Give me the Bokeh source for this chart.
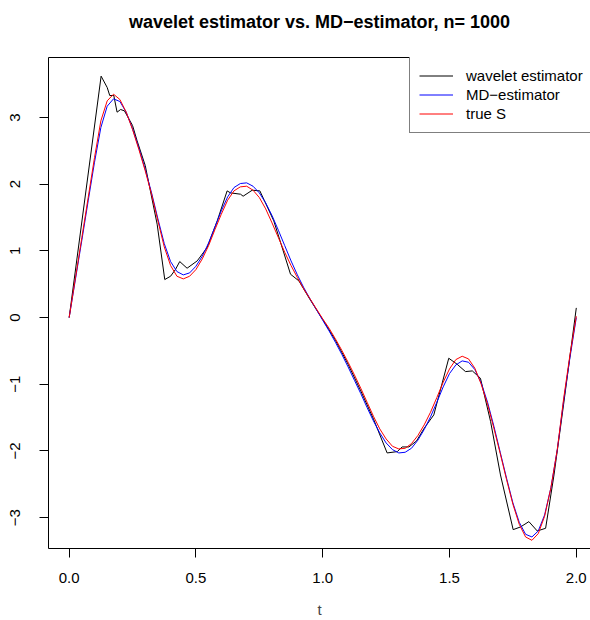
from bokeh.plotting import figure
from bokeh.models import Range1d, LinearAxis, FixedTicker, Legend, LegendItem, Grid, Title
from bokeh.embed import file_html
from bokeh.resources import INLINE

# ---- data ----
t_grid = [0.0, 0.025, 0.05, 0.075, 0.1, 0.125, 0.15, 0.175, 0.2, 0.225, 0.25, 0.275,
          0.3, 0.325, 0.35, 0.375, 0.4, 0.425, 0.45, 0.475, 0.5, 0.525, 0.55, 0.575,
          0.6, 0.625, 0.65, 0.675, 0.7, 0.725, 0.75, 0.775, 0.8, 0.825, 0.85, 0.875,
          0.9, 0.925, 0.95, 0.975, 1.0, 1.025, 1.05, 1.075, 1.1, 1.125, 1.15, 1.175,
          1.2, 1.225, 1.25, 1.275, 1.3, 1.325, 1.35, 1.375, 1.4, 1.425, 1.45, 1.475,
          1.5, 1.525, 1.55, 1.575, 1.6, 1.625, 1.65, 1.675, 1.7, 1.725, 1.75, 1.775,
          1.8, 1.825, 1.85, 1.875, 1.9, 1.925, 1.95, 1.975, 2.0]

true_S = [0.0, 0.6, 1.2, 1.8, 2.4, 2.95, 3.25, 3.35, 3.27, 3.08, 2.82, 2.52,
          2.2, 1.85, 1.45, 1.06, 0.78, 0.62, 0.58, 0.62, 0.72, 0.88, 1.08, 1.32,
          1.55, 1.76, 1.9, 1.96, 1.97, 1.91, 1.8, 1.63, 1.42, 1.2, 0.98, 0.78,
          0.6, 0.43, 0.28, 0.13, -0.02, -0.16, -0.32, -0.49, -0.67, -0.86, -1.06, -1.27,
          -1.48, -1.67, -1.82, -1.93, -1.97, -1.96, -1.89, -1.77, -1.61, -1.42, -1.2, -0.97,
          -0.77, -0.63, -0.58, -0.62, -0.76, -1.0, -1.3, -1.66, -2.04, -2.43, -2.8, -3.1,
          -3.29, -3.34, -3.24, -2.98, -2.55, -1.98, -1.22, -0.56, 0.02]

md_est = [0.0, 0.58, 1.16, 1.75, 2.33, 2.85, 3.17, 3.28, 3.24, 3.08, 2.83, 2.54,
          2.22, 1.87, 1.48, 1.11, 0.84, 0.69, 0.64, 0.67, 0.77, 0.92, 1.12, 1.36,
          1.6, 1.81, 1.95, 2.01, 2.02, 1.97, 1.87, 1.72, 1.53, 1.31, 1.08, 0.85,
          0.64, 0.45, 0.28, 0.12, -0.04, -0.2, -0.37, -0.55, -0.74, -0.94, -1.14, -1.35,
          -1.55, -1.73, -1.88, -1.98, -2.03, -2.02, -1.96, -1.84, -1.68, -1.49, -1.27, -1.04,
          -0.84, -0.71, -0.65, -0.67, -0.78, -0.98, -1.27, -1.63, -2.02, -2.41, -2.78, -3.07,
          -3.25, -3.29, -3.2, -2.96, -2.55, -1.98, -1.25, -0.6, 0.0]

t_wavelet = [0.0, 0.126, 0.15, 0.16, 0.176, 0.189, 0.203, 0.218, 0.25, 0.268, 0.3,
             0.347, 0.377, 0.40, 0.419, 0.436, 0.465, 0.505, 0.544, 0.584, 0.623,
             0.636, 0.676, 0.686, 0.722, 0.752, 0.807, 0.873, 0.906, 0.95, 1.0,
             1.05, 1.1, 1.15, 1.2, 1.254, 1.294, 1.313, 1.34, 1.37, 1.4, 1.438,
             1.497, 1.53, 1.563, 1.59, 1.622, 1.662, 1.701, 1.751, 1.78, 1.813,
             1.846, 1.879, 1.912, 1.95, 2.0]

wavelet_est = [0.0, 3.62, 3.45, 3.33, 3.33, 3.08, 3.12, 3.10, 2.88, 2.65, 2.28,
               1.40, 0.57, 0.62, 0.72, 0.84, 0.74, 0.85, 1.05, 1.45, 1.90,
               1.87, 1.85, 1.82, 1.91, 1.90, 1.45, 0.65, 0.55, 0.27, -0.03,
               -0.34, -0.70, -1.10, -1.52, -2.03, -2.01, -1.94, -1.94, -1.85, -1.66, -1.46,
               -0.61, -0.70, -0.81, -0.80, -0.91, -1.56, -2.36, -3.18, -3.14, -3.06,
               -3.20, -3.16, -2.36, -1.30, 0.145]

x_ticks = [0.0, 0.5, 1.0, 1.5, 2.0]
x_tick_labels = ["0.0", "0.5", "1.0", "1.5", "2.0"]
y_ticks = [-3, -2, -1, 0, 1, 2, 3]
y_tick_labels = ["\u22123", "\u22122", "\u22121", "0", "1", "2", "3"]

series_labels = ["wavelet estimator", "MD\u2212estimator", "true S"]
title_text = "wavelet estimator vs. MD\u2212estimator, n= 1000"
x_label = "t"

FONT = "Liberation Sans"

p = figure(width=590, height=620, output_backend="svg", toolbar_location=None,
           x_range=Range1d(-0.0815, 2.056), y_range=Range1d(-3.463, 3.90),
           x_axis_location=None, y_axis_location=None,
           min_border_left=48, min_border_right=0, min_border_top=57, min_border_bottom=72)
p.outline_line_color = None
p.background_fill_color = "white"
p.border_fill_color = "white"
p.title.text = ""
for g in list(p.center):
    if isinstance(g, Grid):
        g.visible = False

# bottom axis (also bottom border of the box)
xa = LinearAxis(ticker=FixedTicker(ticks=x_ticks),
                major_label_overrides=dict(zip(x_ticks, x_tick_labels)),
                axis_label=x_label)
xa.major_tick_out = 9
xa.major_tick_in = 0
xa.minor_tick_out = 0
xa.minor_tick_in = 0
xa.major_label_standoff = 15
xa.major_label_text_font = FONT
xa.major_label_text_font_size = "15px"
xa.major_label_text_color = "black"
xa.axis_label_text_font = FONT
xa.axis_label_text_font_size = "15px"
xa.axis_label_text_font_style = "normal"
xa.axis_label_standoff = 15
xa.axis_line_color = "black"
xa.major_tick_line_color = "black"
p.add_layout(xa, "below")

# left axis (also left border of the box)
ya = LinearAxis(ticker=FixedTicker(ticks=y_ticks),
                major_label_overrides=dict(zip(y_ticks, y_tick_labels)))
ya.major_tick_out = 9
ya.major_tick_in = 0
ya.minor_tick_out = 0
ya.minor_tick_in = 0
ya.major_label_standoff = 19
ya.major_label_orientation = "vertical"
ya.major_label_text_font = FONT
ya.major_label_text_font_size = "15px"
ya.major_label_text_color = "black"
ya.axis_line_color = "black"
ya.major_tick_line_color = "black"
p.add_layout(ya, "left")

# top border line of the box; its invisible tick reserves the gap below the title
ta = LinearAxis(ticker=FixedTicker(ticks=[1.0]),
                major_label_overrides={1.0: ""})
ta.major_tick_out = 21
ta.major_tick_in = 0
ta.minor_tick_out = 0
ta.minor_tick_in = 0
ta.major_tick_line_color = None
ta.minor_tick_line_color = None
ta.major_label_standoff = 0
ta.major_label_text_font_size = "0px"
ta.axis_line_color = "black"
p.add_layout(ta, "above")

main_title = Title(text=title_text, align="center", text_font=FONT,
                   text_font_size="18px", text_font_style="bold", text_color="black")
p.add_layout(main_title, "above")

r_w = p.line(t_wavelet, wavelet_est, line_color="black", line_width=1)
r_md = p.line(t_grid, md_est, line_color="blue", line_width=1)
r_s = p.line(t_grid, true_S, line_color="red", line_width=1)

legend = Legend(items=[LegendItem(label=series_labels[0], renderers=[r_w]),
                       LegendItem(label=series_labels[1], renderers=[r_md]),
                       LegendItem(label=series_labels[2], renderers=[r_s])],
                location=(361, 415))
legend.padding = 9
legend.spacing = 0
legend.margin = 0
legend.glyph_width = 34
legend.glyph_height = 19
legend.label_height = 19
legend.label_width = 122
legend.label_standoff = 13
legend.label_text_font = FONT
legend.label_text_font_size = "15px"
legend.label_text_color = "black"
legend.border_line_color = "black"
legend.border_line_width = 1
legend.background_fill_color = "white"
legend.background_fill_alpha = 1.0
p.add_layout(legend, "center")

open("out.html", "w").write(file_html(p, INLINE))
